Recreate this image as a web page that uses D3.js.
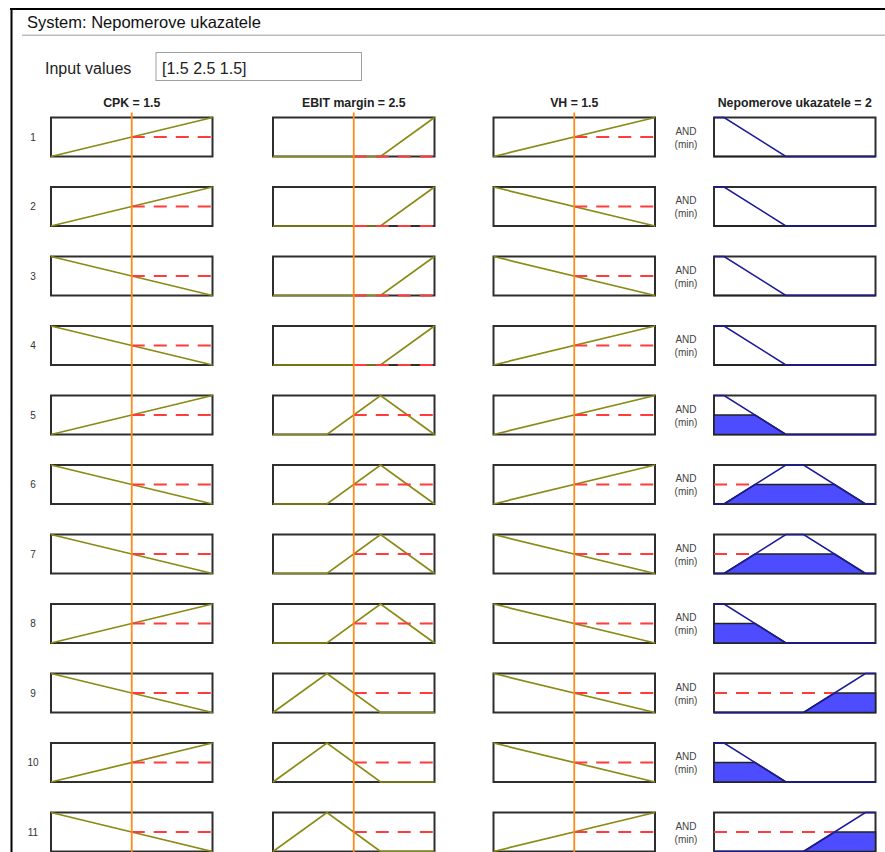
<!DOCTYPE html>
<html>
<head>
<meta charset="utf-8">
<script src="https://cdn.jsdelivr.net/npm/d3@7"></script>
<style>
  html, body { margin: 0; padding: 0; background: #fff; }
  svg { display: block; font-family: "Liberation Sans", Arial, sans-serif; }
</style>
</head>
<body>
<svg id="chart" width="885" height="852"></svg>
<script>
// ---- fuzzy system definition ----
const systemName = "Nepomerove ukazatele";
const inputNames = ["CPK", "EBIT margin", "VH"];
const inputValues = [1.5, 2.5, 1.5];
const inputRanges = [[0, 3], [0, 5], [0, 3]];
const outputName = "Nepomerove ukazatele";
const outputValue = 2;
const outputRange = [0, 4];

// membership functions as [x, degree] breakpoints
const cpkMF = {
  rising:  [[0, 0], [3, 1]],
  falling: [[0, 1], [3, 0]]
};
const ebitMF = {
  low:  [[0, 0], [1.67, 1], [3.33, 0], [5, 0]],
  mid:  [[0, 0], [1.67, 0], [3.33, 1], [5, 0]],
  high: [[0, 0], [3.33, 0], [5, 1]]
};
const vhMF = {
  rising:  [[0, 0], [3, 1]],
  falling: [[0, 1], [3, 0]]
};
const outMF = {
  low:  [[0, 1], [0.25, 1], [1.78, 0], [4, 0]],
  mid:  [[0, 0], [0.25, 0], [1.78, 1], [2.22, 1], [3.75, 0], [4, 0]],
  high: [[0, 0], [2.22, 0], [3.75, 1], [4, 1]]
};

// rule base: antecedent terms and consequent per rule
const ruleCPK  = ["rising", "rising", "falling", "falling", "rising", "falling", "falling", "rising", "falling", "rising", "falling"];
const ruleEBIT = ["high", "high", "high", "high", "mid", "mid", "mid", "mid", "low", "low", "low"];
const ruleVH   = ["rising", "falling", "falling", "rising", "rising", "rising", "falling", "falling", "falling", "falling", "rising"];
const ruleOut  = ["low", "low", "low", "low", "low", "mid", "mid", "low", "high", "low", "high"];

const inputMFs = [cpkMF, ebitMF, vhMF];
const ruleTerms = [ruleCPK, ruleEBIT, ruleVH];

// ---- helpers ----
function degree(bp, x) {
  if (x <= bp[0][0]) return bp[0][1];
  for (let i = 0; i < bp.length - 1; i++) {
    const [x0, y0] = bp[i], [x1, y1] = bp[i + 1];
    if (x >= x0 && x <= x1) return x1 === x0 ? y1 : y0 + (y1 - y0) * (x - x0) / (x1 - x0);
  }
  return bp[bp.length - 1][1];
}

// membership function clipped at level w (min implication)
function clipped(bp, w) {
  const pts = [];
  for (let i = 0; i < bp.length; i++) {
    const [x0, y0] = bp[i];
    pts.push([x0, Math.min(y0, w)]);
    if (i < bp.length - 1) {
      const [x1, y1] = bp[i + 1];
      if ((y0 - w) * (y1 - w) < 0) {
        pts.push([x0 + (w - y0) * (x1 - x0) / (y1 - y0), w]);
      }
    }
  }
  return pts;
}

// first x where the function reaches level w
function firstReach(bp, w) {
  if (bp[0][1] >= w) return bp[0][0];
  for (let i = 0; i < bp.length - 1; i++) {
    const [x0, y0] = bp[i], [x1, y1] = bp[i + 1];
    if (y1 >= w) return x0 + (w - y0) * (x1 - x0) / (y1 - y0);
  }
  return bp[bp.length - 1][0];
}

// ---- layout ----
const svg = d3.select("#chart");
const W = 885, H = 852;
const colX = [51, 273, 493.5, 714];
const colW = 161.5;
const rowTop0 = 117.5, rowPitch = 69.5, rowH = 39;
const nRules = ruleOut.length;

const col = {
  olive: "#8a8a14",
  red: "#ff3b3b",
  orange: "#ff8c1a",
  border: "#2e2e2e",
  navy: "#1a1a9a",
  fill: "#4d4dff"
};

// window frame
svg.append("line").attr("x1", 10).attr("x2", W).attr("y1", 9).attr("y2", 9)
  .attr("stroke", "#000").attr("stroke-width", 2);
svg.append("line").attr("x1", 11.5).attr("x2", 11.5).attr("y1", 8).attr("y2", H)
  .attr("stroke", "#000").attr("stroke-width", 2);

svg.append("text").attr("x", 27).attr("y", 28)
  .attr("font-size", 16.5).attr("fill", "#111")
  .text("System: " + systemName);
svg.append("line").attr("x1", 22).attr("x2", W).attr("y1", 35.3).attr("y2", 35.3)
  .attr("stroke", "#bbb").attr("stroke-width", 1.6);

svg.append("text").attr("x", 45).attr("y", 73.5)
  .attr("font-size", 16).attr("fill", "#222")
  .text("Input values");
svg.append("rect").attr("x", 156).attr("y", 52.5).attr("width", 205.5).attr("height", 28)
  .attr("fill", "#fff").attr("stroke", "#a0a0a0").attr("stroke-width", 1);
svg.append("text").attr("x", 162).attr("y", 73.5)
  .attr("font-size", 16).attr("fill", "#222")
  .text("[" + inputValues.join(" ") + "]");

// column headings
const headings = inputNames.map((n, i) => n + " = " + inputValues[i]).concat([outputName + " = " + outputValue]);
headings.forEach((t, c) => {
  svg.append("text").attr("x", colX[c] + colW / 2).attr("y", 107.3)
    .attr("text-anchor", "middle").attr("font-size", 12.3).attr("font-weight", "bold")
    .attr("fill", "#222").text(t);
});

const xIn = inputRanges.map((r, c) => d3.scaleLinear().domain(r).range([colX[c], colX[c] + colW]));
const xOut = d3.scaleLinear().domain(outputRange).range([colX[3], colX[3] + colW]);

for (let r = 0; r < nRules; r++) {
  const top = rowTop0 + r * rowPitch;
  const y = d3.scaleLinear().domain([0, 1]).range([top + rowH, top]);
  const g = svg.append("g");

  g.append("text").attr("x", 33).attr("y", top + rowH / 2 + 3.5)
    .attr("text-anchor", "middle").attr("font-size", 10).attr("fill", "#333")
    .text(r + 1);

  // antecedents
  const degs = [];
  for (let c = 0; c < 3; c++) {
    const bp = inputMFs[c][ruleTerms[c][r]];
    const x = xIn[c];
    const mu = degree(bp, inputValues[c]);
    degs.push(mu);
    g.append("rect").attr("x", colX[c]).attr("y", top).attr("width", colW).attr("height", rowH)
      .attr("fill", "#fff").attr("stroke", col.border).attr("stroke-width", 2);
    g.append("path").datum(bp)
      .attr("d", d3.line().x(d => x(d[0])).y(d => y(d[1])))
      .attr("fill", "none").attr("stroke", col.olive).attr("stroke-width", 1.7);
    g.append("line").attr("x1", x(inputValues[c])).attr("x2", x(inputRanges[c][1]))
      .attr("y1", y(mu)).attr("y2", y(mu))
      .attr("stroke", col.red).attr("stroke-width", 2).attr("stroke-dasharray", "13,9");
  }

  // AND (min)
  g.append("text").attr("x", 686).attr("y", top + rowH / 2 - 2.5)
    .attr("text-anchor", "middle").attr("font-size", 10).attr("fill", "#444").text("AND");
  g.append("text").attr("x", 686).attr("y", top + rowH / 2 + 10.5)
    .attr("text-anchor", "middle").attr("font-size", 10).attr("fill", "#444").text("(min)");

  // consequent
  const w = d3.min(degs);
  const obp = outMF[ruleOut[r]];
  g.append("rect").attr("x", colX[3]).attr("y", top).attr("width", colW).attr("height", rowH)
    .attr("fill", "#fff").attr("stroke", col.border).attr("stroke-width", 2);
  const poly = clipped(obp, w).concat([[outputRange[1], 0], [outputRange[0], 0]]);
  g.append("path").datum(poly)
    .attr("d", d3.line().x(d => xOut(d[0])).y(d => y(d[1])).curve(d3.curveLinearClosed))
    .attr("fill", col.fill).attr("stroke", "#222").attr("stroke-width", 1.5);
  const xr = firstReach(obp, w);
  if (xr > outputRange[0]) {
    g.append("line").attr("x1", xOut(outputRange[0])).attr("x2", xOut(xr))
      .attr("y1", y(w)).attr("y2", y(w))
      .attr("stroke", col.red).attr("stroke-width", 2).attr("stroke-dasharray", "13,9");
  }
  g.append("path").datum(obp)
    .attr("d", d3.line().x(d => xOut(d[0])).y(d => y(d[1])))
    .attr("fill", "none").attr("stroke", col.navy).attr("stroke-width", 1.5);
}

// input value markers
inputValues.forEach((v, c) => {
  svg.append("line").attr("x1", xIn[c](v)).attr("x2", xIn[c](v))
    .attr("y1", 112.5).attr("y2", H)
    .attr("stroke", col.orange).attr("stroke-width", 1.8);
});
</script>
</body>
</html>
